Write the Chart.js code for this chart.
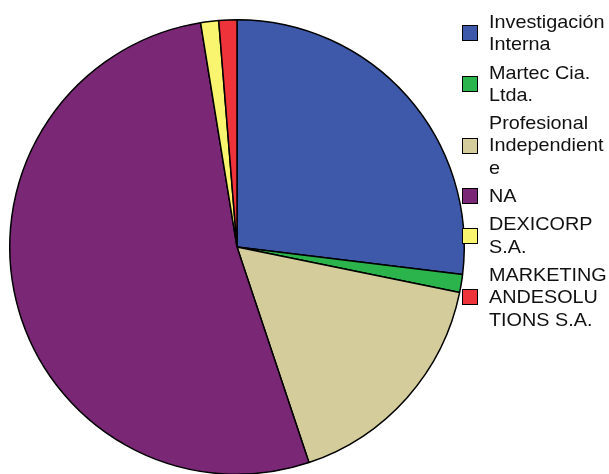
<!DOCTYPE html>
<html>
<head>
<meta charset="utf-8">
<script src="https://cdn.jsdelivr.net/npm/chart.js@4/dist/chart.umd.min.js"></script>
<style>
  html, body { margin: 0; padding: 0; background: #fff; }
  #wrap { position: relative; width: 609px; height: 474px; overflow: hidden; }
  #chart { position: absolute; left: 0; top: 0; }
  #legend { position: absolute; left: 462px; top: 11px; font-family: "Liberation Sans", Arial, sans-serif; color: #111; }
  .item { display: flex; align-items: center; margin-bottom: 6px; }
  .box { width: 14px; height: 14px; border: 1.5px solid #000; flex: 0 0 auto; }
  .txt { margin-left: 11px; font-size: 18.5px; line-height: 22.3px; transform-origin: left center; transform: scaleX(1.07); white-space: nowrap; }
</style>
</head>
<body>
<div id="wrap">
  <canvas id="chart" width="609" height="480"></canvas>
  <div id="legend"></div>
</div>
<script>
// Responses by source
const categories = [
  "Investigación Interna",
  "Martec Cia. Ltda.",
  "Profesional Independiente",
  "NA",
  "DEXICORP S.A.",
  "MARKETINGANDESOLUTIONS S.A."
];
const counts = [21, 1, 13, 41, 1, 1];
const legendLines = [
  ["Investigación", "Interna"],
  ["Martec Cia.", "Ltda."],
  ["Profesional", "Independient", "e"],
  ["NA"],
  ["DEXICORP", "S.A."],
  ["MARKETING", "ANDESOLU", "TIONS S.A."]
];
const sliceColors = ["#3F59AA", "#2CB44C", "#D4CD9B", "#7A2776", "#FAF56E", "#EE343A"];

new Chart(document.getElementById("chart"), {
  type: "pie",
  data: {
    labels: categories,
    datasets: [{
      data: counts,
      backgroundColor: sliceColors,
      borderColor: "#000",
      borderWidth: 1.5
    }]
  },
  options: {
    responsive: false,
    animation: false,
    layout: { padding: { left: 9, right: 144, top: 19, bottom: 5 } },
    plugins: {
      legend: { display: false },
      tooltip: { enabled: false }
    }
  }
});

// Legend built as HTML text beside the pie
const legend = document.getElementById("legend");
categories.forEach((name, i) => {
  const item = document.createElement("div");
  item.className = "item";
  const box = document.createElement("div");
  box.className = "box";
  box.style.background = sliceColors[i];
  const txt = document.createElement("div");
  txt.className = "txt";
  txt.innerHTML = legendLines[i].join("<br>");
  item.appendChild(box);
  item.appendChild(txt);
  legend.appendChild(item);
});
</script>
</body>
</html>
